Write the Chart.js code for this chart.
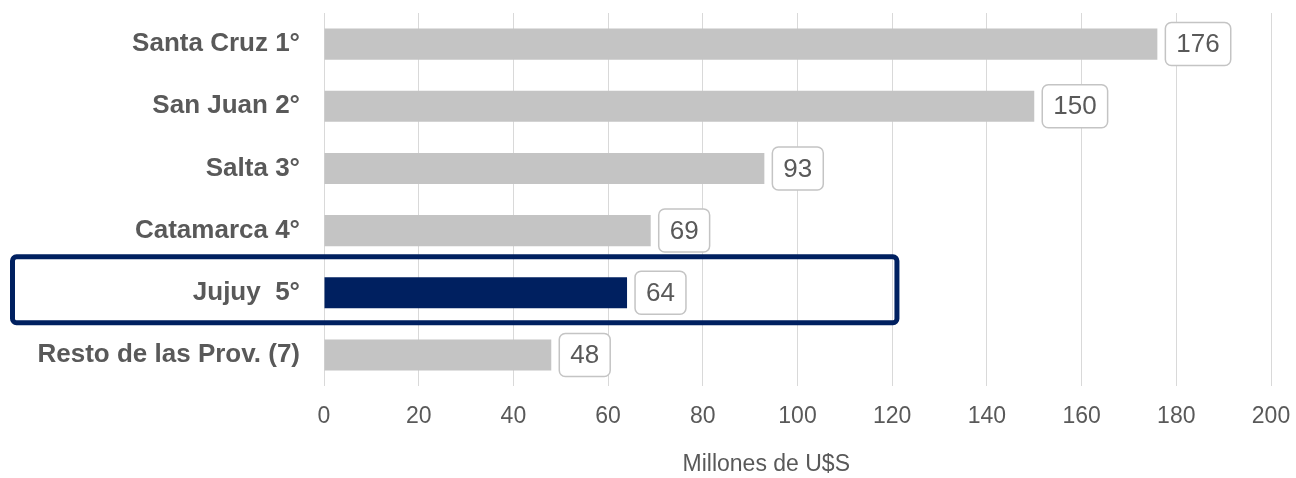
<!DOCTYPE html>
<html>
<head>
<meta charset="utf-8">
<script src="https://cdn.jsdelivr.net/npm/chart.js@4"></script>
<style>
  body { margin: 0; background: #fff; }
  #wrap { width: 1296px; height: 478px; }
</style>
</head>
<body>
<div id="wrap"><canvas id="provChart"></canvas></div>
<script>
const provincias = ["Santa Cruz 1°", "San Juan 2°", "Salta 3°", "Catamarca 4°", "Jujuy  5°", "Resto de las Prov. (7)"];
const valores = [176, 150, 93, 69, 64, 48];
const xTicks = [0, 20, 40, 60, 80, 100, 120, 140, 160, 180, 200];
const destacado = 4; // Jujuy

const grisTexto = '#595959';
const azul = '#002060';
const fuente = "'Liberation Sans', Arial, sans-serif";

// cajitas con el valor al final de cada barra
const etiquetas = {
    id: 'etiquetas',
    afterDatasetsDraw(chart) {
        const ctx = chart.ctx;
        const meta = chart.getDatasetMeta(0);
        ctx.save();
        ctx.font = '26px ' + fuente;
        meta.data.forEach((bar, i) => {
            const txt = String(valores[i]);
            const w = ctx.measureText(txt).width + 22;
            const h = 43;
            const x0 = bar.x + 8;
            const y0 = bar.y - h / 2;
            ctx.beginPath();
            ctx.roundRect(x0, y0, w, h, 6);
            ctx.fillStyle = '#fff';
            ctx.fill();
            ctx.lineWidth = 1.5;
            ctx.strokeStyle = '#c4c4c4';
            ctx.stroke();
            ctx.fillStyle = grisTexto;
            ctx.textAlign = 'center';
            ctx.textBaseline = 'middle';
            ctx.fillText(txt, x0 + w / 2, bar.y + 1);
        });
        ctx.restore();
    }
};

// recuadro alrededor de Jujuy y titulo del eje
const recuadro = {
    id: 'recuadro',
    afterDraw(chart) {
        const ctx = chart.ctx;
        const x = chart.scales.x;
        const y = chart.scales.y;
        const yc = y.getPixelForValue(destacado);
        ctx.save();
        ctx.beginPath();
        ctx.roundRect(12.5, yc - 36, x.getPixelForValue(121) - 12.5, 66, 4);
        ctx.lineWidth = 5;
        ctx.strokeStyle = azul;
        ctx.stroke();

        ctx.font = '23px ' + fuente;
        ctx.fillStyle = grisTexto;
        ctx.textAlign = 'center';
        ctx.textBaseline = 'middle';
        const ca = chart.chartArea;
        ctx.fillText('Millones de U$S', ca.left + (ca.right - ca.left) * 0.467, ca.bottom + 79);
        ctx.restore();
    }
};

const ctx = document.getElementById('provChart').getContext('2d');
new Chart(ctx, {
    type: 'bar',
    data: {
        labels: provincias,
        datasets: [{
            data: valores,
            backgroundColor: valores.map((v, i) => i === destacado ? azul : '#c4c4c4'),
            categoryPercentage: 0.5,
            barPercentage: 1
        }]
    },
    options: {
        indexAxis: 'y',
        responsive: true,
        maintainAspectRatio: false,
        animation: false,
        layout: { padding: { top: 13, right: 25, left: 0, bottom: 0 } },
        plugins: {
            legend: { display: false },
            tooltip: { enabled: false }
        },
        scales: {
            x: {
                min: 0, max: 200,
                afterBuildTicks: (s) => { s.ticks = xTicks.map(v => ({ value: v })); },
                afterFit: (s) => { s.height = 92; s.paddingLeft = 0; s.paddingRight = 0; },
                grid: { color: '#d9d9d9', lineWidth: 1, drawTicks: false },
                border: { display: false },
                ticks: {
                    color: grisTexto,
                    font: { family: fuente, size: 23 },
                    padding: 17
                }
            },
            y: {
                afterFit: (s) => { s.width = 324; s.paddingTop = 0; s.paddingBottom = 0; },
                grid: { display: false, drawTicks: false },
                border: { display: false },
                ticks: {
                    color: grisTexto,
                    font: { family: fuente, size: 26, weight: 'bold' },
                    padding: 24
                }
            }
        }
    },
    plugins: [etiquetas, recuadro]
});
</script>
</body>
</html>
